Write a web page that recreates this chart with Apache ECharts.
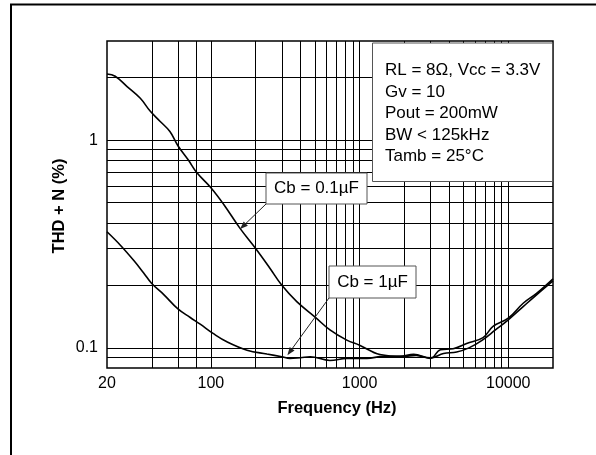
<!DOCTYPE html>
<html>
<head>
<meta charset="utf-8">
<script src="https://cdn.jsdelivr.net/npm/echarts@6/dist/echarts.min.js"></script>
<style>
  html, body { margin: 0; padding: 0; background: #fff; }
  #chart { width: 596px; height: 455px; }
</style>
</head>
<body>
<div id="chart"></div>
<script>
// THD + N versus frequency for two bypass capacitor values
const freqCb01 = [20, 22.7, 27.3, 33.5, 39, 45.6, 53, 60, 70.7, 80, 100, 122, 157, 200, 250, 300, 378, 500, 632, 820, 1000, 1370, 1960, 2400, 3000, 3500, 4260, 5250, 6770, 7900, 10000, 12600, 15500, 20000];
const thdCb01  = [2.08, 2.03, 1.81, 1.59, 1.38, 1.23, 1.10, 0.94, 0.80, 0.70, 0.59, 0.49, 0.376, 0.301, 0.241, 0.20, 0.167, 0.141, 0.122, 0.109, 0.103, 0.093, 0.091, 0.092, 0.089, 0.098, 0.099, 0.105, 0.112, 0.127, 0.139, 0.164, 0.183, 0.215];

const freqCb1 = [20, 24.6, 30.2, 35.2, 40, 48, 60, 72.6, 84.7, 104, 128, 175, 238, 300, 340, 400, 466, 632, 820, 1120, 1440, 1870, 2310, 3000, 3670, 4500, 5440, 6700, 8200, 10000, 12600, 15500, 20000];
const thdCb1  = [0.362, 0.312, 0.264, 0.230, 0.204, 0.181, 0.154, 0.140, 0.130, 0.117, 0.107, 0.0975, 0.0934, 0.0906, 0.089, 0.0897, 0.0906, 0.087, 0.089, 0.089, 0.091, 0.091, 0.093, 0.0895, 0.094, 0.0955, 0.100, 0.109, 0.122, 0.1365, 0.158, 0.18, 0.21];

// grid lines and labelled ticks
const xGridFreqs = [40, 60, 80, 100, 200, 300, 400, 500, 600, 700, 800, 900, 1000, 2000, 3000, 4000, 5000, 6000, 7000, 8000, 9000, 10000];
const yGridVals = [0.09, 0.1, 0.2, 0.3, 0.4, 0.5, 0.6, 0.7, 0.8, 0.9, 1, 2];
const xTickLabels = [20, 100, 1000, 10000];
const yTickLabels = [0.1, 1];

// test conditions and curve labels
const conditionLines = ['RL = 8Ω, Vcc = 3.3V', 'Gv = 10', 'Pout = 200mW', 'BW < 125kHz', 'Tamb = 25°C'];
const curveNames = ['Cb = 0.1µF', 'Cb = 1µF'];
const labelAnchors = [[157, 0.373], [327, 0.0922]];

const FONT = '"Liberation Sans", Arial, Helvetica, sans-serif';

function pairs(xs, ys) { return xs.map((x, i) => [x, ys[i]]); }
function near(v, list) { return list.some(t => Math.abs(v - t) / t < 1e-6); }

const chart = echarts.init(document.getElementById('chart'), null, { renderer: 'canvas' });

chart.setOption({
  animation: false,
  backgroundColor: '#fff',
  grid: {
    left: 107, top: 41, right: 43, bottom: 87,
    show: true, borderColor: '#000', borderWidth: 1.5, backgroundColor: 'transparent'
  },
  xAxis: {
    type: 'log', logBase: 10, min: 20, max: 20000,
    axisLine: { show: false }, axisTick: { show: false }, splitLine: { show: false },
    axisLabel: {
      margin: 8, color: '#000', fontSize: 16, fontFamily: FONT,
      showMinLabel: true, showMaxLabel: true,
      formatter: v => near(v, xTickLabels) ? String(Math.round(v)) : ''
    }
  },
  yAxis: {
    type: 'log', logBase: 10, min: 0.08, max: 3,
    axisLine: { show: false }, axisTick: { show: false }, splitLine: { show: false },
    axisLabel: {
      margin: 9, color: '#000', fontSize: 16, fontFamily: FONT,
      showMinLabel: true, showMaxLabel: true,
      formatter: v => near(v, yTickLabels) ? String(Math.round(v * 10) / 10) : ''
    }
  },
  series: [
    {
      name: curveNames[0], type: 'line', data: pairs(freqCb01, thdCb01),
      showSymbol: false, smooth: 0.4, z: 5,
      lineStyle: { color: '#000', width: 1.6 },
      markLine: {
        silent: true, symbol: 'none', animation: false,
        label: { show: false },
        lineStyle: { color: '#000', width: 1, type: 'solid' },
        emphasis: { disabled: true },
        data: xGridFreqs.map(f => ({ xAxis: f })).concat(yGridVals.map(v => ({ yAxis: v })))
      }
    },
    {
      name: curveNames[1], type: 'line', data: pairs(freqCb1, thdCb1),
      showSymbol: false, smooth: 0.4, z: 5,
      lineStyle: { color: '#000', width: 1.6 }
    }
  ]
});

// axis titles, condition box, curve labels with leader arrows
function arrow(from, to) {
  const ang = Math.atan2(to[1] - from[1], to[0] - from[0]);
  const len = 8, half = 3;
  const bx = to[0] - len * Math.cos(ang), by = to[1] - len * Math.sin(ang);
  const px = -Math.sin(ang) * half, py = Math.cos(ang) * half;
  return [
    { type: 'line', z: 120, shape: { x1: from[0], y1: from[1], x2: bx, y2: by },
      style: { stroke: '#222', lineWidth: 1 } },
    { type: 'polygon', z: 120, shape: { points: [[to[0], to[1]], [bx + px, by + py], [bx - px, by - py]] },
      style: { fill: '#222' } }
  ];
}

function labelBox(x, y, w, h, text) {
  return [
    { type: 'rect', z: 110, shape: { x: x, y: y, width: w, height: h },
      style: { fill: '#fff', stroke: '#555', lineWidth: 1 } },
    { type: 'text', z: 111, x: x + w / 2, y: y + h / 2,
      style: { text: text, fill: '#000', font: '17px ' + FONT, align: 'center', verticalAlign: 'middle' } }
  ];
}

const tip0 = chart.convertToPixel({ xAxisIndex: 0, yAxisIndex: 0 }, labelAnchors[0]);
const tip1 = chart.convertToPixel({ xAxisIndex: 0, yAxisIndex: 0 }, labelAnchors[1]);

const elements = [
  { type: 'rect', z: 130, shape: { x: 11, y: 4.5, width: 640, height: 500 },
    style: { fill: null, stroke: '#000', lineWidth: 2 } },
  { type: 'text', z: 100, x: 337, y: 408,
    style: { text: 'Frequency (Hz)', fill: '#000', font: 'bold 16.5px ' + FONT, align: 'center', verticalAlign: 'middle' } },
  { type: 'text', z: 100, x: 59, y: 206, rotation: Math.PI / 2,
    style: { text: 'THD + N (%)', fill: '#000', font: 'bold 16.5px ' + FONT, align: 'center', verticalAlign: 'middle' } },
  { type: 'rect', z: 110, shape: { x: 372.5, y: 43, width: 180, height: 138.5 },
    style: { fill: '#fff', stroke: '#555', lineWidth: 1 } }
];
conditionLines.forEach((t, i) => {
  elements.push({ type: 'text', z: 111, x: 385, y: 70.7 + i * 21.5,
    style: { text: t, fill: '#000', font: '17px ' + FONT, align: 'left', verticalAlign: 'middle' } });
});
labelBox(266, 173, 101, 31, curveNames[0]).forEach(e => elements.push(e));
labelBox(329, 266, 87, 32, curveNames[1]).forEach(e => elements.push(e));
arrow([266, 204], tip0).forEach(e => elements.push(e));
arrow([329, 298], tip1).forEach(e => elements.push(e));

chart.setOption({ graphic: { elements: elements } });
</script>
</body>
</html>
